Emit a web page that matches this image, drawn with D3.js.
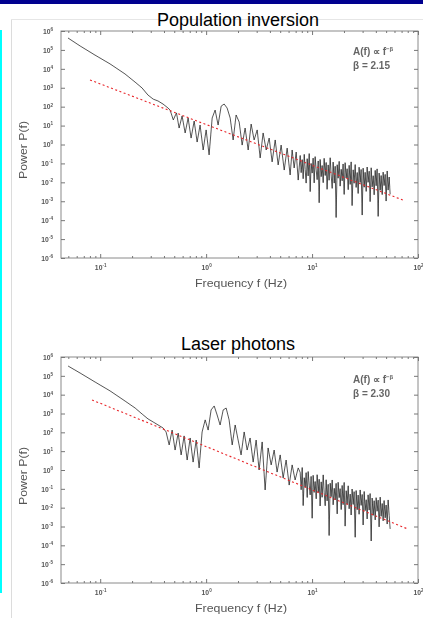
<!DOCTYPE html>
<html><head><meta charset="utf-8">
<script src="https://cdn.jsdelivr.net/npm/d3@7"></script>
<style>
html,body{margin:0;padding:0;background:#fff;}
svg{display:block;font-family:"Liberation Sans",Arial,sans-serif;}
</style></head>
<body>
<svg id="chart" width="423" height="618"></svg>
<script>
// ---- data (log10 values) ----
const titles = ["Population inversion", "Laser photons"];
const betas = ["2.15", "2.30"];
const xTickExps = [-1, 0, 1, 2];
const yTickExps = [6, 5, 4, 3, 2, 1, 0, -1, -2, -3, -4, -5, -6];

// Population inversion spectrum, low/mid frequencies: log10 f, log10 P
const popLowLogF = [-1.304,-1.19,-1.05,-0.907,-0.766,-0.671,-0.605,-0.55,-0.50,-0.454,-0.407,-0.36,
 -0.34,-0.31,-0.28,-0.255,-0.227,-0.198,-0.17,-0.142,-0.113,-0.085,-0.057,-0.028,0.0,0.028,0.057,0.085,0.113,0.142,0.17,0.198,0.227,0.255,0.283,0.312,0.34,0.368,0.397,0.425,0.453,0.482,0.51,0.538,0.567,0.595,0.623,0.652,0.68,0.708,0.737,0.765,0.793,0.812,0.831,0.85,0.869];
const popLowLogP = [5.63,5.21,4.73,4.26,3.73,3.30,2.99,2.62,2.40,2.30,2.14,1.93,
 1.82,1.30,1.67,0.87,1.51,0.61,1.40,0.34,1.24,0.13,1.03,-0.29,0.77,-0.55,1.40,1.82,1.03,2.03,2.14,1.93,1.40,0.24,1.56,1.19,-0.03,0.87,-0.29,1.08,0.24,0.77,-0.71,0.61,-0.29,0.34,-0.92,0.24,-1.08,-0.03,-1.35,-0.19,-1.61,-0.29,-1.24,-0.40,-1.88];

// High-frequency grid (shared by both spectra): log10 f
const hiLogF = [0.888,0.897,0.907,0.916,0.926,0.935,0.944,0.954,0.963,0.973,0.982,0.991,1.001,1.010,1.020,1.029,1.039,1.048,1.058,1.067,1.076,1.086,1.095,1.105,1.114,1.124,1.133,1.142,1.152,1.161,1.171,1.180,1.190,1.199,1.209,1.218,1.227,1.237,1.246,1.256,1.265,1.275,1.284,1.293,1.303,1.312,1.322,1.331,1.341,1.350,1.360,1.369,1.378,1.388,1.397,1.407,1.416,1.426,1.435,1.444,1.454,1.463,1.473,1.482,1.492,1.501,1.511,1.520,1.529,1.539,1.548,1.558,1.567,1.577,1.586,1.596,1.605,1.614,1.624,1.633,1.643,1.652,1.662,1.671,1.680,1.690,1.699,1.709,1.718,1.728,1.737];

// Population inversion, high frequencies: log10 P
const popHiLogP = [-0.58,-1.49,-0.80,-1.81,-0.52,-1.33,-2.04,-0.75,-1.66,-0.48,-2.49,-1.00,-1.51,-0.72,-2.03,-0.64,-1.35,-1.86,-0.87,-3.08,-0.79,-1.70,-1.11,-2.02,-0.73,-1.64,-0.95,-2.37,-1.08,-1.89,-0.70,-1.61,-2.32,-0.93,-2.04,-1.15,-3.86,-1.07,-1.78,-0.89,-2.20,-1.31,-1.92,-1.03,-2.64,-0.96,-1.77,-1.28,-2.39,-1.10,-2.11,-0.92,-3.23,-1.34,-2.05,-1.06,-2.27,-1.48,-2.59,-1.20,-2.01,-1.32,-3.73,-1.25,-2.26,-1.47,-2.48,-1.19,-2.00,-1.41,-3.02,-1.23,-2.24,-1.65,-2.66,-1.37,-2.18,-1.29,-3.80,-1.51,-2.42,-1.64,-2.65,-1.46,-2.17,-1.58,-2.99,-1.40,-2.41,-1.72,-2.63];

// Laser photons spectrum, low/mid frequencies: log10 f, log10 P
const lasLowLogF = [-1.303,-1.19,-1.048,-0.907,-0.765,-0.67,-0.604,-0.548,-0.50,-0.453,-0.406,
 -0.378,-0.349,-0.321,-0.293,-0.264,-0.236,-0.208,-0.179,-0.151,-0.123,-0.094,-0.066,-0.038,-0.009,0.019,0.047,0.076,0.104,0.132,0.161,0.189,0.217,0.246,0.274,0.302,0.33,0.359,0.387,0.415,0.444,0.472,0.50,0.529,0.557,0.585,0.614,0.642,0.67,0.699,0.727,0.755,0.784,0.812,0.84,0.869];
const lasLowLogP = [5.52,5.15,4.67,4.20,3.66,3.29,2.97,2.71,2.55,2.39,2.23,
 2.02,1.33,2.12,1.06,1.96,0.80,1.81,0.53,1.70,0.42,1.59,0.11,2.02,2.66,2.12,3.19,3.40,2.92,2.39,3.19,3.29,2.66,1.33,2.39,1.59,0.80,2.02,1.06,1.70,0.42,1.59,0.0,1.49,-1.06,1.17,0.27,1.06,-0.11,0.80,-0.42,0.53,-0.80,0.27,-0.53,0.11];

// Laser photons, high frequencies: log10 P
const lasHiLogP = [-0.13,-1.05,0.13,-1.89,-0.41,-0.92,-0.14,-1.46,-0.08,-0.80,-1.32,-0.34,-2.56,-0.28,-1.19,-0.61,-1.53,-0.25,-1.17,-0.49,-1.91,-0.63,-1.45,-0.26,-1.18,-1.90,-0.52,-1.64,-0.76,-3.48,-0.70,-1.42,-0.53,-1.85,-0.97,-1.59,-0.71,-2.33,-0.65,-1.47,-0.99,-2.10,-0.82,-1.84,-0.66,-2.98,-1.10,-1.82,-0.84,-2.06,-1.28,-2.39,-1.01,-1.83,-1.15,-3.57,-1.09,-2.11,-1.33,-2.35,-1.06,-1.88,-1.30,-2.92,-1.14,-2.16,-1.58,-2.60,-1.32,-2.13,-1.25,-3.77,-1.49,-2.41,-1.63,-2.65,-1.47,-2.19,-1.60,-3.02,-1.44,-2.46,-1.78,-2.70,-1.62,-2.54,-1.86,-2.87,-1.59,-2.41,-3.13];

// Power-law fit lines: endpoints (log10 f, log10 P)
const popFitLogF = [-1.096, 1.878];
const popFitLogP = [3.41, -2.98];
const lasFitLogF = [-1.077, 1.907];
const lasFitLogP = [3.72, -3.14];

// ---- drawing ----
const svg = d3.select("#chart");
const defs = svg.append("defs");
defs.append("filter").attr("id","soft").attr("x","-5%").attr("y","-5%").attr("width","110%").attr("height","110%")
  .append("feGaussianBlur").attr("stdDeviation",0.45);

// page decorations
svg.append("rect").attr("x",0).attr("y",0).attr("width",423).attr("height",4).attr("fill","#00008f");
svg.append("rect").attr("x",0).attr("y",30).attr("width",2).attr("height",563).attr("fill","#00ffff");
svg.append("line").attr("x1",11.5).attr("x2",11.5).attr("y1",19).attr("y2",618).attr("stroke","#dcdcdc");
svg.append("line").attr("x1",11).attr("x2",423).attr("y1",19.5).attr("y2",19.5).attr("stroke","#e6e6e6");

const x = d3.scaleLog().domain([Math.pow(10,-1.37), 100]).range([61, 418]);

const panels = [
  {title: titles[0], beta: betas[0], lf: popLowLogF.concat(hiLogF), lp: popLowLogP.concat(popHiLogP),
   ff: popFitLogF, fp: popFitLogP,
   top: 31, bottom: 258, titleY: 26, xTitleY: 287, yTitleY: 150, annY: 55},
  {title: titles[1], beta: betas[1], lf: lasLowLogF.concat(hiLogF), lp: lasLowLogP.concat(lasHiLogP),
   ff: lasFitLogF, fp: lasFitLogP,
   top: 357, bottom: 583, titleY: 350, xTitleY: 612, yTitleY: 476, annY: 383}
];

const minorX = [];
[-2,-1,0,1].forEach(e => { for (let m = 2; m <= 9; m++) { const v = m*Math.pow(10,e); if (v >= x.domain()[0] && v <= 100) minorX.push(v); } });
const majorX = xTickExps.map(e => Math.pow(10,e));
const majorY = yTickExps.map(e => Math.pow(10,e));

function supLabel(sel){
  sel.each(function(d){
    const e = Math.round(Math.log10(d));
    const t = d3.select(this);
    t.text("10");
    t.append("tspan").attr("dy",-2.8).attr("font-size","4.6px").text(e);
  });
}

panels.forEach(p => {
  const y = d3.scaleLog().domain([1e-6, 1e6]).range([p.bottom, p.top]);
  const g = svg.append("g").attr("filter","url(#soft)");
  const W = 418 - 61, H = p.bottom - p.top;

  // frame
  g.append("rect").attr("x",61).attr("y",p.top).attr("width",W).attr("height",H)
    .attr("fill","none").attr("stroke","#8a8a8a").attr("stroke-width",1);

  // ticks
  const styleAxis = a => { a.select(".domain").remove(); a.selectAll("line").attr("stroke","#777"); };
  const bMaj = g.append("g").attr("transform",`translate(0,${p.bottom})`)
    .call(d3.axisBottom(x).tickValues(majorX).tickSize(-4).tickPadding(7));
  styleAxis(bMaj);
  bMaj.selectAll("text").attr("font-size","6.8px").attr("font-weight","bold").attr("fill","#555").attr("font-family","Liberation Sans, Arial").call(supLabel);
  const bMin = g.append("g").attr("transform",`translate(0,${p.bottom})`)
    .call(d3.axisBottom(x).tickValues(minorX).tickSize(-2).tickFormat(""));
  styleAxis(bMin);
  const tMaj = g.append("g").attr("transform",`translate(0,${p.top})`)
    .call(d3.axisTop(x).tickValues(majorX).tickSize(-4).tickFormat(""));
  styleAxis(tMaj);
  const tMin = g.append("g").attr("transform",`translate(0,${p.top})`)
    .call(d3.axisTop(x).tickValues(minorX).tickSize(-2).tickFormat(""));
  styleAxis(tMin);
  const lMaj = g.append("g").attr("transform","translate(61,0)")
    .call(d3.axisLeft(y).tickValues(majorY).tickSize(-4).tickPadding(8));
  styleAxis(lMaj);
  lMaj.selectAll("text").attr("font-size","6.8px").attr("font-weight","bold").attr("fill","#555").attr("font-family","Liberation Sans, Arial").call(supLabel);
  const rMaj = g.append("g").attr("transform","translate(418,0)")
    .call(d3.axisRight(y).tickValues(majorY).tickSize(-4).tickFormat(""));
  styleAxis(rMaj);

  // axis titles
  g.append("text").attr("x",241).attr("y",p.xTitleY).attr("text-anchor","middle")
    .attr("font-size","10.5px").attr("fill","#555").attr("textLength",92).attr("lengthAdjust","spacingAndGlyphs").text("Frequency f (Hz)");
  g.append("text").attr("transform",`translate(27,${p.yTitleY}) rotate(-90)`).attr("text-anchor","middle")
    .attr("font-size","10.5px").attr("fill","#555").attr("textLength",58).attr("lengthAdjust","spacingAndGlyphs").text("Power P(f)");

  // spectrum
  const pts = p.lf.map((v,i) => [Math.pow(10,v), Math.pow(10,p.lp[i])]);
  g.append("path").datum(pts)
    .attr("d", d3.line().x(d => x(d[0])).y(d => y(d[1])))
    .attr("fill","none").attr("stroke","#1e1e1e").attr("stroke-width",0.75);

  // fit line
  const fit = p.ff.map((v,i) => [Math.pow(10,v), Math.pow(10,p.fp[i])]);
  g.append("path").datum(fit)
    .attr("d", d3.line().x(d => x(d[0])).y(d => y(d[1])))
    .attr("fill","none").attr("stroke","#e8262a").attr("stroke-width",1.1).attr("stroke-dasharray","2,2.5");

  // annotation
  const a1 = g.append("text").attr("x",353).attr("y",p.annY).attr("font-size","10px").attr("font-weight","bold").attr("fill","#666");
  a1.append("tspan").text("A(f) \u221D f");
  a1.append("tspan").attr("dy",-4).attr("font-size","6px").text("\u2212\u03B2");
  g.append("text").attr("x",353).attr("y",p.annY+14).attr("font-size","10px").attr("font-weight","bold").attr("fill","#666")
    .text("\u03B2 = " + p.beta);

  // panel title (crisp)
  svg.append("text").attr("x",238).attr("y",p.titleY).attr("text-anchor","middle")
    .attr("font-size","18px").attr("fill","#000").text(p.title);
});
</script>
</body></html>
